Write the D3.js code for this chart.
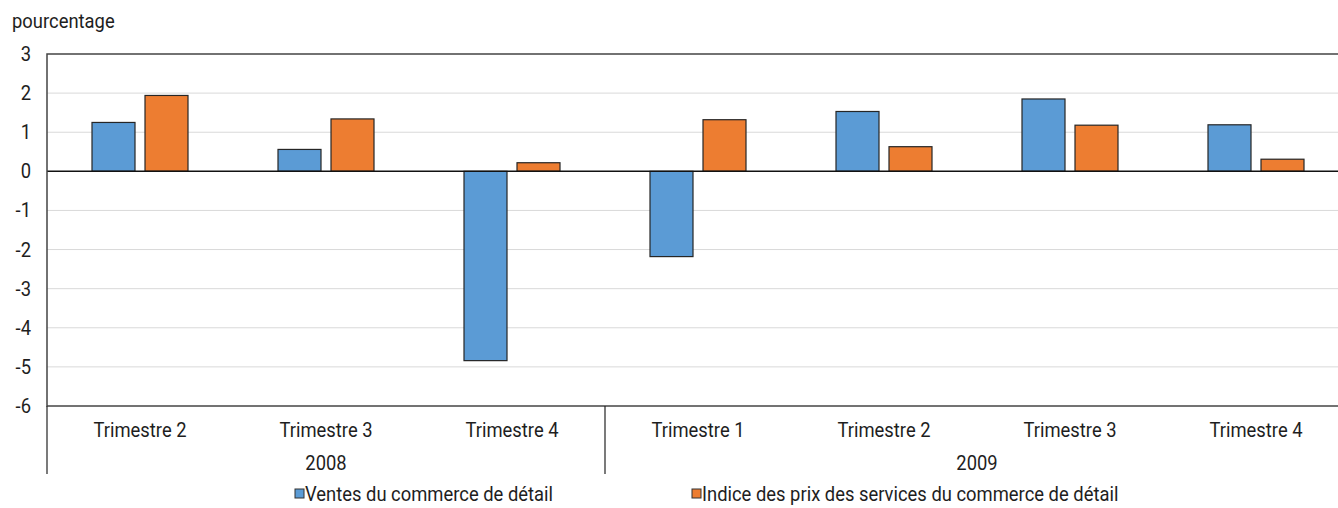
<!DOCTYPE html>
<html>
<head>
<meta charset="utf-8">
<script src="https://cdn.jsdelivr.net/npm/d3@7"></script>
<style>
  body { margin: 0; background: #fff; }
  text { font-family: Roboto, 'Liberation Sans', sans-serif; fill: #1e1e1e; font-size: 20px; }
</style>
</head>
<body>
<script>
const quarters = ['Trimestre 2', 'Trimestre 3', 'Trimestre 4', 'Trimestre 1', 'Trimestre 2', 'Trimestre 3', 'Trimestre 4'];
const years = [{label: '2008', from: 0, to: 3}, {label: '2009', from: 3, to: 7}];
const ventes = [1.25, 0.56, -4.84, -2.18, 1.53, 1.85, 1.19];
const indice = [1.94, 1.34, 0.22, 1.32, 0.63, 1.18, 0.31];
const seriesNames = ['Ventes du commerce de détail', 'Indice des prix des services du commerce de détail'];
const colors = ['#5b9bd5', '#ed7d31'];
const yTicks = d3.range(-6, 4);

const W = 1338, H = 508;
const margin = {top: 54, left: 47};
const bandW = 186;
const plotRight = margin.left + bandW * quarters.length;
const plotBottom = 406;
const squeeze = 0.92; // condensed look

const svg = d3.select('body').append('svg').attr('width', W).attr('height', H);

const x = d3.scaleBand().domain(d3.range(quarters.length)).range([margin.left, plotRight]);
const y = d3.scaleLinear().domain([-6, 3]).range([plotBottom, margin.top]);

// places narrow text at (px, py)
function label(sel, px, py) {
  return sel.attr('x', 0).attr('y', 0)
    .attr('transform', (d, i) => `translate(${typeof px === 'function' ? px(d, i) : px},${typeof py === 'function' ? py(d, i) : py}) scale(${squeeze},1)`);
}

// gridlines
svg.append('g').selectAll('line').data(yTicks.filter(d => d !== -6 && d !== 3 && d !== 0))
  .join('line')
  .attr('x1', margin.left).attr('x2', plotRight)
  .attr('y1', d => y(d)).attr('y2', d => y(d))
  .attr('stroke', '#d9d9d9').attr('stroke-width', 1);

// y tick labels
label(svg.append('g').selectAll('text').data(yTicks).join('text'), 31, d => y(d) + 7)
  .attr('text-anchor', 'end')
  .text(d => d);

label(svg.append('text'), 12, 28).text('pourcentage');

// bars
const barW = 43, gap = 5;
[ventes, indice].forEach((vals, s) => {
  svg.append('g').selectAll('rect').data(vals).join('rect')
    .attr('x', (d, i) => x(i) + bandW / 2 + (s === 0 ? -gap - barW : gap))
    .attr('width', barW)
    .attr('y', d => y(Math.max(0, d)))
    .attr('height', d => Math.abs(y(d) - y(0)))
    .attr('fill', colors[s])
    .attr('stroke', '#262626').attr('stroke-width', 1.2);
});

// zero line
svg.append('line').attr('x1', margin.left).attr('x2', plotRight)
  .attr('y1', y(0)).attr('y2', y(0)).attr('stroke', '#111').attr('stroke-width', 1.5);

// plot border
svg.append('rect').attr('x', margin.left).attr('y', margin.top)
  .attr('width', plotRight - margin.left).attr('height', plotBottom - margin.top)
  .attr('fill', 'none').attr('stroke', '#444').attr('stroke-width', 1.5);

// category labels
label(svg.append('g').selectAll('text').data(quarters).join('text'), (d, i) => x(i) + bandW / 2, 437)
  .attr('text-anchor', 'middle')
  .text(d => d);

// year separators and labels
svg.append('g').selectAll('line').data([0, 3].map(i => x(i))).join('line')
  .attr('x1', d => d).attr('x2', d => d)
  .attr('y1', plotBottom).attr('y2', 474)
  .attr('stroke', '#222').attr('stroke-width', 1.2);

label(svg.append('g').selectAll('text').data(years).join('text'),
    d => (x(d.from) + (d.to < quarters.length ? x(d.to) : plotRight)) / 2, 470)
  .attr('text-anchor', 'middle')
  .text(d => d.label);

// legend
const legendX = [295, 692];
seriesNames.forEach((name, s) => {
  const g = svg.append('g').attr('transform', `translate(${legendX[s]},494)`);
  g.append('rect').attr('x', 0).attr('y', -5).attr('width', 9).attr('height', 9)
    .attr('fill', colors[s]).attr('stroke', '#333').attr('stroke-width', 1);
  label(g.append('text'), 10, 7).text(name);
});
</script>
</body>
</html>
